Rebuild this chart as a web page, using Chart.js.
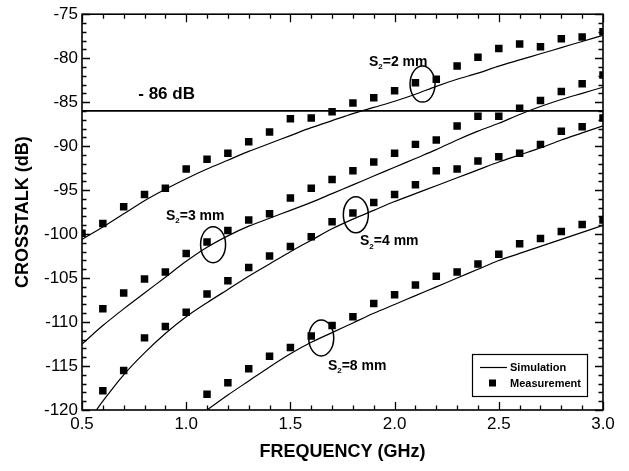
<!DOCTYPE html>
<html>
<head>
<meta charset="utf-8">
<style>
  html, body { margin: 0; padding: 0; background: #fff; }
  #wrap { width: 629px; height: 471px; }
</style>
<script src="https://cdn.jsdelivr.net/npm/chart.js@4.4.0/dist/chart.umd.min.js"></script>
</head>
<body>
<div id="wrap"><canvas id="crosstalkChart"></canvas></div>
<script>
// Frequency points (GHz)
const freqs = [0.5, 0.6, 0.7, 0.8, 0.9, 1.0, 1.1, 1.2, 1.3, 1.4, 1.5, 1.6, 1.7,
               1.8, 1.9, 2.0, 2.1, 2.2, 2.3, 2.4, 2.5, 2.6, 2.7, 2.8, 2.9, 3.0];

// Simulation curves (dB)
const sim2mm = [-100.6, -99.2, -97.7, -96.2, -94.9, -93.7, -92.6, -91.6, -90.6, -89.7, -88.8, -87.9, -87.1,
                -86.3, -85.6, -84.9, -84.1, -83.2, -82.4, -81.7, -80.9, -80.2, -79.5, -78.8, -78.1, -77.4];
const sim3mm = [-112.5, -110.4, -108.5, -106.7, -104.9, -103.1, -101.5, -100.2, -99.1, -98.2, -97.3, -96.4, -95.4,
                -94.4, -93.4, -92.4, -91.4, -90.4, -89.3, -88.3, -87.4, -86.4, -85.5, -84.7, -84.0, -83.3];
const sim4mm = [-122.3, -119.0, -116.0, -113.5, -111.3, -109.4, -107.8, -106.3, -104.8, -103.4, -102.0, -100.7, -99.4,
                -98.3, -97.3, -96.3, -95.4, -94.5, -93.6, -92.7, -91.8, -91.0, -90.2, -89.3, -88.5, -87.7];
const sim8mm = [null, null, null, null, null, null, -120.0, -118.3, -116.7, -115.1, -113.6, -112.3, -111.2,
                -110.1, -109.0, -108.0, -107.0, -106.0, -105.0, -104.0, -103.0, -102.2, -101.4, -100.6, -99.8, -99.0];

// Measured points (dB)
const meas2mm = [-99.9, -98.8, -96.9, -95.5, -94.8, -92.6, -91.5, -90.8, -89.5, -88.4, -86.9, -86.8, -86.1,
                 -85.1, -84.5, -83.7, -82.8, -82.4, -80.9, -79.9, -78.9, -78.4, -78.7, -77.8, -77.6, -77.0];
const meas3mm = [null, -108.5, -106.7, -105.1, -104.3, -102.2, -100.9, -99.6, -98.4, -97.7, -95.9, -94.8, -93.8,
                 -92.8, -91.8, -90.8, -89.8, -89.3, -87.7, -86.6, -86.6, -85.7, -84.8, -83.8, -82.9, -81.9];
const meas4mm = [null, -117.8, -115.5, -111.8, -110.5, -108.9, -106.8, -105.3, -103.8, -102.5, -101.4, -100.3, -98.6,
                 -97.6, -96.4, -95.5, -94.4, -92.8, -92.6, -91.7, -91.2, -90.8, -89.8, -88.3, -87.8, -86.8];
const meas8mm = [null, null, null, null, null, null, -118.2, -116.9, -115.3, -113.9, -112.9, -111.6, -110.4,
                 -109.4, -107.9, -106.9, -105.8, -104.8, -104.3, -103.4, -102.3, -101.1, -100.5, -99.7, -98.9, -98.4];

// Limit line
const limitLevel = -86;
const limitText = '- 86 dB';

// Curve labels: [freq, dB] where the text starts, spacing value
const curveLabels = [
  { at: [1.877, -80.45], value: '2' },
  { at: [0.903, -97.95], value: '3' },
  { at: [1.834, -100.85], value: '4' },
  { at: [1.680, -115.0], value: '8' }
];
// Ellipses marking each curve: [freq, dB]
const ellipseCenters = [[2.134, -82.95], [1.129, -101.2], [1.814, -97.8], [1.648, -111.8]];

const legendLabels = ['Simulation', 'Measurement'];

const FONT = "'Liberation Sans', Arial, Helvetica, sans-serif";

function toPoints(values) {
  const pts = [];
  values.forEach((v, i) => { if (v !== null) pts.push({ x: freqs[i], y: v }); });
  return pts;
}

function simSet(values) {
  return {
    data: toPoints(values), borderColor: '#000', borderWidth: 1.2,
    pointRadius: 0, tension: 0.3, fill: false
  };
}
function measSet(values) {
  return {
    data: toPoints(values), showLine: false, pointStyle: 'rect',
    pointRadius: 5.3, pointBackgroundColor: '#000', pointBorderWidth: 0
  };
}

// Inward tick marks on all four sides, plus the frame
const frameTicks = {
  id: 'frameTicks',
  afterDatasetsDraw(chart) {
    const { ctx, chartArea: a, scales: { x, y } } = chart;
    ctx.save();
    ctx.strokeStyle = '#000';
    ctx.lineWidth = 1.3;
    ctx.beginPath();
    for (let i = 0; i <= 25; i++) {
      const px = Math.round(x.getPixelForValue(0.5 + i * 0.1)) + 0.5;
      const len = i % 5 === 0 ? 8 : 4.5;
      ctx.moveTo(px, a.bottom); ctx.lineTo(px, a.bottom - len);
      ctx.moveTo(px, a.top); ctx.lineTo(px, a.top + len);
    }
    for (let d = -120; d <= -75; d++) {
      const py = Math.round(y.getPixelForValue(d)) + 0.5;
      const len = d % 5 === 0 ? 8 : 4.5;
      ctx.moveTo(a.left, py); ctx.lineTo(a.left + len, py);
      ctx.moveTo(a.right, py); ctx.lineTo(a.right - len, py);
    }
    ctx.stroke();
    ctx.lineWidth = 1.6;
    ctx.strokeRect(a.left, a.top, a.right - a.left, a.bottom - a.top);
    ctx.restore();
  }
};

// Text notes, ellipses and legend box
const notes = {
  id: 'notes',
  afterDraw(chart) {
    const { ctx, chartArea: a, scales: { x, y } } = chart;
    ctx.save();
    ctx.fillStyle = '#000';
    ctx.strokeStyle = '#000';

    // - 86 dB
    ctx.font = 'bold 17px ' + FONT;
    ctx.textBaseline = 'middle';
    ctx.fillText(limitText, x.getPixelForValue(0.77), y.getPixelForValue(-84.1));

    // S2=.. mm labels
    curveLabels.forEach(l => {
      let px = x.getPixelForValue(l.at[0]);
      const py = y.getPixelForValue(l.at[1]);
      ctx.font = 'bold 14px ' + FONT;
      ctx.fillText('S', px, py);
      px += ctx.measureText('S').width;
      ctx.font = 'bold 8px ' + FONT;
      ctx.fillText('2', px, py + 5);
      px += ctx.measureText('2').width;
      ctx.font = 'bold 14px ' + FONT;
      ctx.fillText('=' + l.value + ' mm', px, py);
    });

    // ellipses
    ctx.lineWidth = 1.5;
    ellipseCenters.forEach(c => {
      ctx.beginPath();
      ctx.ellipse(x.getPixelForValue(c[0]), y.getPixelForValue(c[1]), 12.5, 18, 0, 0, Math.PI * 2);
      ctx.stroke();
    });

    // legend
    const bw = 115, bh = 42;
    const bx = a.right - 16 - bw, by = a.bottom - 14 - bh;
    ctx.fillStyle = '#fff';
    ctx.fillRect(bx, by, bw, bh);
    ctx.lineWidth = 1.2;
    ctx.strokeRect(bx + 0.5, by + 0.5, bw, bh);
    ctx.beginPath();
    ctx.moveTo(bx + 8, by + 13.5);
    ctx.lineTo(bx + 35, by + 13.5);
    ctx.stroke();
    ctx.fillStyle = '#000';
    ctx.fillRect(bx + 17, by + 25.5, 7, 7);
    ctx.font = 'bold 11px ' + FONT;
    ctx.fillText(legendLabels[0], bx + 38, by + 13.5);
    ctx.fillText(legendLabels[1], bx + 38, by + 29.5);
    ctx.restore();
  }
};

const ctx = document.getElementById('crosstalkChart').getContext('2d');
new Chart(ctx, {
  type: 'line',
  data: {
    datasets: [
      simSet(sim2mm), simSet(sim3mm), simSet(sim4mm), simSet(sim8mm),
      measSet(meas2mm), measSet(meas3mm), measSet(meas4mm), measSet(meas8mm),
      {
        data: [{ x: freqs[0], y: limitLevel }, { x: freqs[freqs.length - 1], y: limitLevel }],
        borderColor: '#000', borderWidth: 1.8, pointRadius: 0
      }
    ]
  },
  options: {
    responsive: true,
    maintainAspectRatio: false,
    animation: false,
    devicePixelRatio: 1,
    layout: { padding: { top: 14, right: 26, bottom: 0, left: 0 } },
    plugins: { legend: { display: false }, tooltip: { enabled: false } },
    scales: {
      x: {
        type: 'linear', min: 0.5, max: 3.0,
        afterFit: s => { s.height = 61; },
        grid: { display: false, drawTicks: false },
        border: { display: false },
        ticks: {
          stepSize: 0.5, padding: 4, color: '#000',
          font: { family: FONT, size: 17 },
          callback: v => v.toFixed(1)
        },
        title: {
          display: true, text: 'FREQUENCY (GHz)', color: '#000',
          font: { family: FONT, size: 18, weight: 'bold' },
          padding: { top: 0, bottom: 8 }
        }
      },
      y: {
        min: -120, max: -75,
        afterFit: s => { s.width = 82; },
        grid: { display: false, drawTicks: false },
        border: { display: false },
        ticks: {
          stepSize: 5, padding: 4, color: '#000',
          font: { family: FONT, size: 17 }
        },
        title: {
          display: true, text: 'CROSSTALK (dB)', color: '#000',
          font: { family: FONT, size: 18, weight: 'bold' },
          padding: { top: 12, bottom: 0 }
        }
      }
    }
  },
  plugins: [frameTicks, notes]
});
</script>
</body>
</html>
